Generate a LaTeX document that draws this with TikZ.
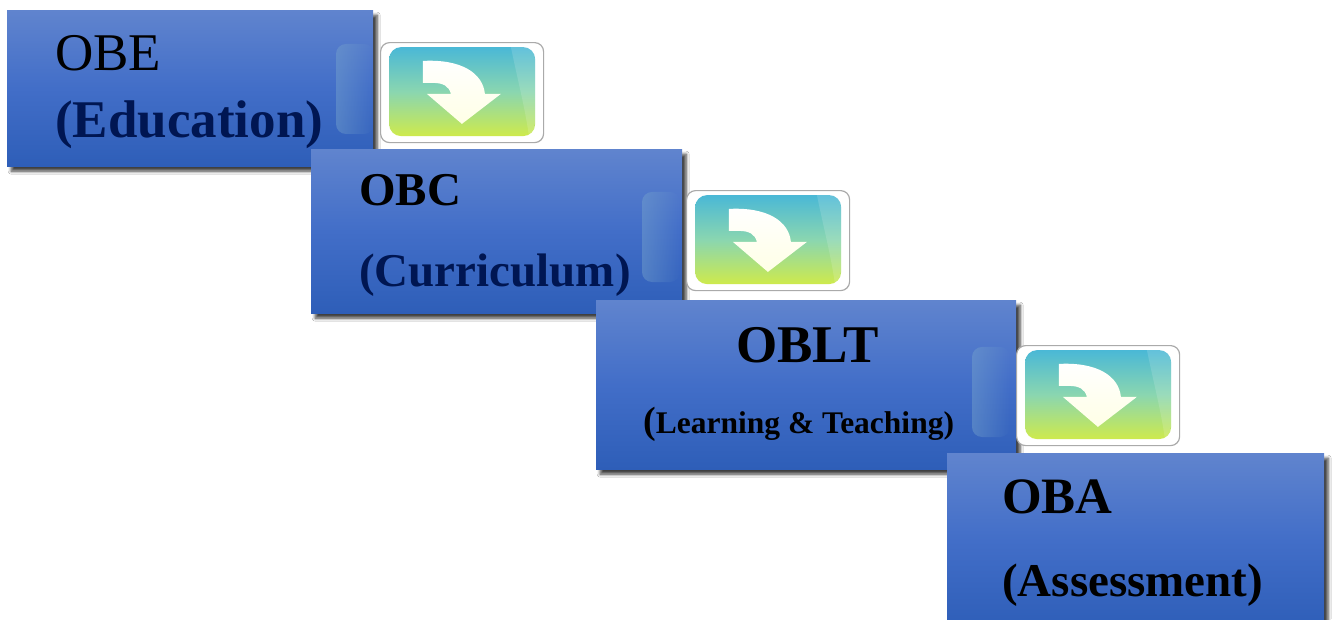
\documentclass[tikz,border=0pt]{standalone}
\usepackage{fontspec}
\setmainfont{Liberation Serif}
\usetikzlibrary{shadows,shadows.blur,fadings}
\definecolor{boxtop}{RGB}{96,132,206}
\definecolor{boxmid}{RGB}{66,110,200}
\definecolor{boxbot}{RGB}{46,94,184}
\definecolor{navy}{RGB}{0,22,82}
\definecolor{icontop}{RGB}{74,184,214}
\definecolor{iconmid}{RGB}{138,214,176}
\definecolor{iconbot}{RGB}{206,234,76}
\definecolor{framegray}{RGB}{170,170,170}
\definecolor{reflcol}{RGB}{120,165,205}
\tikzset{
  stagebox/.style={inner sep=0pt, top color=boxtop, bottom color=boxbot, middle color=boxmid,
    blur shadow={shadow xshift=4pt, shadow yshift=-5pt, shadow blur steps=6, shadow blur radius=3pt, shadow opacity=75}},
  iconframe/.style={draw=framegray, line width=1.2pt, fill=white, rounded corners=9pt,
    minimum width=163pt, minimum height=100pt, inner sep=0pt},
  iconinner/.style={rounded corners=12pt, top color=icontop, bottom color=iconbot, middle color=iconmid,
    minimum width=146pt, minimum height=89pt, inner sep=0pt},
  refl/.style={fill=reflcol, fill opacity=0.45, path fading=east, rounded corners=10pt},
  gloss/.style={fill=white, fill opacity=0.14},
  arrowfill/.style={top color=white, bottom color=white!90!yellow},
  lbl/.style={inner sep=0pt, anchor=base west},
}
\newcommand{\iconarrow}{%
  \begin{scope}
    \clip[rounded corners=12pt] (0,0) rectangle (146,89);
    \path[gloss] (122,0) .. controls (128,30) and (136,60) .. (140,89) -- (146,89) -- (146,0) -- cycle;
  \end{scope}
  \shade[arrowfill] (34,14) .. controls (72,12) and (94,26) .. (96,47) -- (112,47) -- (73,77)
     -- (38,47) -- (62,47) .. controls (60,39) and (54,36) .. (44,36) -- (34,36) -- cycle;}
\begin{document}
\begin{tikzpicture}[x=1pt,y=-1pt]
\useasboundingbox (0,0) rectangle (1333,619);
\fill[white] (0,0) rectangle (1333,619);

% stage 1
\node[stagebox, anchor=north west, minimum width=366pt, minimum height=156pt] (b1) at (7,10) {};
\node[lbl, font=\fontsize{53}{60}\selectfont] (t1a) at (55,70) {OBE};
\node[lbl, font=\fontsize{53}{60}\selectfont\bfseries, text=navy] (t1b) at (55,137) {(Education)};
\node[iconframe, anchor=north west] (i1) at (380,42) {};
\begin{scope}[shift={(i1.north west)}]
  \path[refl] (-44,2) rectangle (-6,92);
\end{scope}
\node[iconinner] (i1in) at ([yshift=1pt]i1.center) {};
\begin{scope}[shift={(i1in.north west)}]\iconarrow\end{scope}

% stage 2
\node[stagebox, anchor=north west, minimum width=371pt, minimum height=164pt] (b2) at (311,149) {};
\node[lbl, font=\fontsize{47}{56}\selectfont\bfseries] (t2a) at (359,205) {OBC};
\node[lbl, font=\fontsize{47}{56}\selectfont\bfseries, text=navy] (t2b) at (359,286) {(Curriculum)};
\node[iconframe, anchor=north west] (i2) at (686,190) {};
\begin{scope}[shift={(i2.north west)}]
  \path[refl] (-44,2) rectangle (-6,92);
\end{scope}
\node[iconinner] (i2in) at ([yshift=1pt]i2.center) {};
\begin{scope}[shift={(i2in.north west)}]\iconarrow\end{scope}

% stage 3
\node[stagebox, anchor=north west, minimum width=420pt, minimum height=169pt] (b3) at (596,300) {};
\node[lbl, font=\fontsize{53}{60}\selectfont\bfseries] (t3a) at (736,362) {OBLT};
\node[lbl, font=\fontsize{31.5}{38}\selectfont\bfseries] (t3b) at (643,433) {{\fontsize{38}{44}\selectfont(}Learning \& Teaching)};
\node[iconframe, anchor=north west] (i3) at (1016,345) {};
\begin{scope}[shift={(i3.north west)}]
  \path[refl] (-44,2) rectangle (-6,92);
\end{scope}
\node[iconinner] (i3in) at ([yshift=1pt]i3.center) {};
\begin{scope}[shift={(i3in.north west)}]\iconarrow\end{scope}

% stage 4
\node[stagebox, anchor=north west, minimum width=377pt, minimum height=175pt] (b4) at (947,453) {};
\node[lbl, font=\fontsize{51}{58}\selectfont\bfseries] (t4a) at (1002,513) {OBA};
\node[lbl, font=\fontsize{47}{56}\selectfont\bfseries] (t4b) at (1002,596) {(Assessment)};
\end{tikzpicture}
\end{document}
